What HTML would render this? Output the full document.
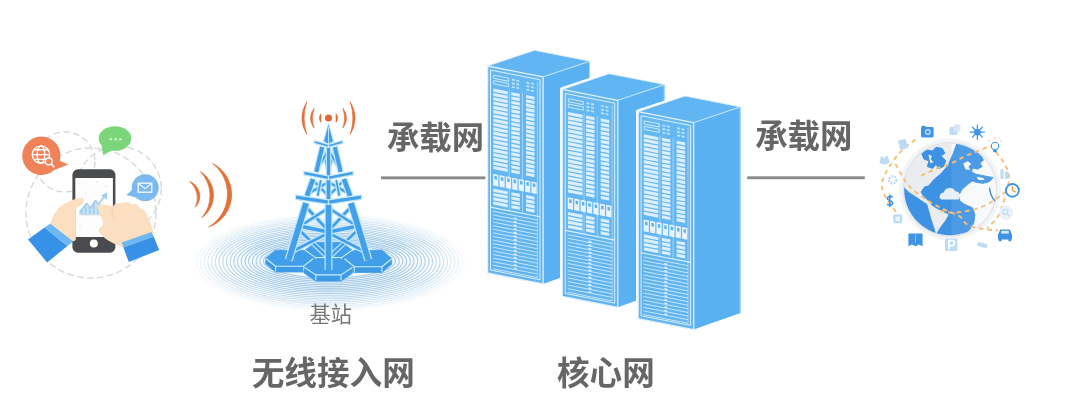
<!DOCTYPE html>
<html lang="zh"><head><meta charset="utf-8"><title>5G network architecture</title>
<style>
html,body{margin:0;padding:0;background:#fff;}
body{width:1080px;height:415px;position:relative;overflow:hidden;font-family:"Liberation Sans",sans-serif;}
svg{position:absolute;left:0;top:0;display:block;filter:blur(0.35px);}
.t{position:absolute;color:transparent;white-space:nowrap;overflow:hidden;line-height:1.2;font-family:"Liberation Sans",sans-serif;}
</style></head><body>
<svg width="1080" height="415" viewBox="0 0 1080 415">
<defs>
<radialGradient id="rip" cx="50%" cy="50%" r="50%">
<stop offset="0" stop-color="#dcedf9" stop-opacity=".6"/>
<stop offset=".5" stop-color="#e2f0fa" stop-opacity=".45"/>
<stop offset=".85" stop-color="#eef6fc" stop-opacity=".2"/>
<stop offset="1" stop-color="#ffffff" stop-opacity="0"/>
</radialGradient>
<linearGradient id="front" x1="0" y1="0" x2="0" y2="1">
<stop offset="0" stop-color="#66b8f3"/><stop offset="1" stop-color="#5fb4f1"/>
</linearGradient>
</defs>
<rect width="1080" height="415" fill="#fff"/>
<ellipse cx="329.5" cy="262" rx="132" ry="46" fill="url(#rip)"/>
<g fill="none" stroke="#9fc7e4" stroke-width="1.05">
<ellipse cx="329.5" cy="261" rx="66" ry="17" stroke-opacity="0.98"/>
<ellipse cx="329.5" cy="261.07" rx="69.71" ry="18.66" stroke-opacity="0.98"/>
<ellipse cx="329.5" cy="261.15" rx="73.42" ry="20.32" stroke-opacity="0.98"/>
<ellipse cx="329.5" cy="261.22" rx="77.13" ry="21.97" stroke-opacity="0.98"/>
<ellipse cx="329.5" cy="261.29" rx="80.84" ry="23.63" stroke-opacity="0.98"/>
<ellipse cx="329.5" cy="261.37" rx="84.55" ry="25.29" stroke-opacity="0.98"/>
<ellipse cx="329.5" cy="261.44" rx="88.26" ry="26.95" stroke-opacity="0.95"/>
<ellipse cx="329.5" cy="261.52" rx="91.97" ry="28.61" stroke-opacity="0.9"/>
<ellipse cx="329.5" cy="261.59" rx="95.68" ry="30.26" stroke-opacity="0.84"/>
<ellipse cx="329.5" cy="261.66" rx="99.39" ry="31.92" stroke-opacity="0.78"/>
<ellipse cx="329.5" cy="261.74" rx="103.11" ry="33.58" stroke-opacity="0.72"/>
<ellipse cx="329.5" cy="261.81" rx="106.82" ry="35.24" stroke-opacity="0.66"/>
<ellipse cx="329.5" cy="261.88" rx="110.53" ry="36.89" stroke-opacity="0.59"/>
<ellipse cx="329.5" cy="261.96" rx="114.24" ry="38.55" stroke-opacity="0.53"/>
<ellipse cx="329.5" cy="262.03" rx="117.95" ry="40.21" stroke-opacity="0.46"/>
<ellipse cx="329.5" cy="262.11" rx="121.66" ry="41.87" stroke-opacity="0.39"/>
<ellipse cx="329.5" cy="262.18" rx="125.37" ry="43.53" stroke-opacity="0.32"/>
<ellipse cx="329.5" cy="262.25" rx="129.08" ry="45.18" stroke-opacity="0.24"/>
<ellipse cx="329.5" cy="262.33" rx="132.79" ry="46.84" stroke-opacity="0.15"/>
<ellipse cx="329.5" cy="262.4" rx="136.5" ry="48.5" stroke-opacity="0.03"/>
</g>
<polygon points="305.1,250 315.6,257.6 341.6,257.6 352.1,250 352.1,255.6 341.6,263.2 315.6,263.2 305.1,255.6" fill="#3f9ae6" stroke="#419ee9" stroke-width="0.8" stroke-linejoin="round"/><polygon points="305.1,250 315.6,242.4 341.6,242.4 352.1,250 341.6,257.6 315.6,257.6" fill="#419ee9" stroke="#419ee9" stroke-width="0.8" stroke-linejoin="round"/><path d="M305.1 250.3L315.6 257.6L341.6 257.6L352.1 250.3 M315.6 257.6v4.8 M341.6 257.6v4.8" fill="none" stroke="#cdeefd" stroke-width="1.1" stroke-linejoin="round"/>
<polygon points="265.8,258.2 275.6,266.2 303.6,266.2 313.4,258.2 313.4,264 303.6,272 275.6,272 265.8,264" fill="#3f9ae6" stroke="#419ee9" stroke-width="0.8" stroke-linejoin="round"/><polygon points="265.8,258.2 275.6,250.2 303.6,250.2 313.4,258.2 303.6,266.2 275.6,266.2" fill="#419ee9" stroke="#419ee9" stroke-width="0.8" stroke-linejoin="round"/><path d="M265.8 258.5L275.6 266.2L303.6 266.2L313.4 258.5 M275.6 266.2v5 M303.6 266.2v5" fill="none" stroke="#cdeefd" stroke-width="1.1" stroke-linejoin="round"/>
<polygon points="344.5,258.5 354.3,266.7 381.9,266.7 391.7,258.5 391.7,264.3 381.9,272.5 354.3,272.5 344.5,264.3" fill="#3f9ae6" stroke="#419ee9" stroke-width="0.8" stroke-linejoin="round"/><polygon points="344.5,258.5 354.3,250.3 381.9,250.3 391.7,258.5 381.9,266.7 354.3,266.7" fill="#419ee9" stroke="#419ee9" stroke-width="0.8" stroke-linejoin="round"/><path d="M344.5 258.8L354.3 266.7L381.9 266.7L391.7 258.8 M354.3 266.7v5 M381.9 266.7v5" fill="none" stroke="#cdeefd" stroke-width="1.1" stroke-linejoin="round"/>
<polygon points="304.1,266.9 315.8,274.9 341,274.9 352.7,266.9 352.7,273.1 341,281.1 315.8,281.1 304.1,273.1" fill="#3f9ae6" stroke="#419ee9" stroke-width="0.8" stroke-linejoin="round"/><polygon points="304.1,266.9 315.8,258.9 341,258.9 352.7,266.9 341,274.9 315.8,274.9" fill="#419ee9" stroke="#419ee9" stroke-width="0.8" stroke-linejoin="round"/><path d="M304.1 267.2L315.8 274.9L341 274.9L352.7 267.2 M315.8 274.9v5.4 M341 274.9v5.4" fill="none" stroke="#cdeefd" stroke-width="1.1" stroke-linejoin="round"/>
<line x1="298.16" y1="229" x2="328.5" y2="258" stroke="#c2e8fc" stroke-width="5" stroke-linecap="butt"/><line x1="298.16" y1="229" x2="328.5" y2="258" stroke="#429fe9" stroke-width="2.6" stroke-linecap="butt"/>
<line x1="328.5" y1="233" x2="291.14" y2="252" stroke="#c2e8fc" stroke-width="5" stroke-linecap="butt"/><line x1="328.5" y1="233" x2="291.14" y2="252" stroke="#429fe9" stroke-width="2.6" stroke-linecap="butt"/>
<line x1="305.18" y1="206" x2="328.5" y2="231" stroke="#c2e8fc" stroke-width="5" stroke-linecap="butt"/><line x1="305.18" y1="206" x2="328.5" y2="231" stroke="#429fe9" stroke-width="2.6" stroke-linecap="butt"/>
<line x1="328.5" y1="208" x2="298.77" y2="227" stroke="#c2e8fc" stroke-width="5" stroke-linecap="butt"/><line x1="328.5" y1="208" x2="298.77" y2="227" stroke="#429fe9" stroke-width="2.6" stroke-linecap="butt"/>
<line x1="299.08" y1="226" x2="328.5" y2="232" stroke="#c2e8fc" stroke-width="5.8" stroke-linecap="butt"/><line x1="299.08" y1="226" x2="328.5" y2="232" stroke="#429fe9" stroke-width="3.4" stroke-linecap="butt"/>
<line x1="358.84" y1="229" x2="328.5" y2="258" stroke="#c2e8fc" stroke-width="5" stroke-linecap="butt"/><line x1="358.84" y1="229" x2="328.5" y2="258" stroke="#429fe9" stroke-width="2.6" stroke-linecap="butt"/>
<line x1="328.5" y1="233" x2="365.86" y2="252" stroke="#c2e8fc" stroke-width="5" stroke-linecap="butt"/><line x1="328.5" y1="233" x2="365.86" y2="252" stroke="#429fe9" stroke-width="2.6" stroke-linecap="butt"/>
<line x1="351.82" y1="206" x2="328.5" y2="231" stroke="#c2e8fc" stroke-width="5" stroke-linecap="butt"/><line x1="351.82" y1="206" x2="328.5" y2="231" stroke="#429fe9" stroke-width="2.6" stroke-linecap="butt"/>
<line x1="328.5" y1="208" x2="358.23" y2="227" stroke="#c2e8fc" stroke-width="5" stroke-linecap="butt"/><line x1="328.5" y1="208" x2="358.23" y2="227" stroke="#429fe9" stroke-width="2.6" stroke-linecap="butt"/>
<line x1="357.92" y1="226" x2="328.5" y2="232" stroke="#c2e8fc" stroke-width="5.8" stroke-linecap="butt"/><line x1="357.92" y1="226" x2="328.5" y2="232" stroke="#429fe9" stroke-width="3.4" stroke-linecap="butt"/>
<line x1="306.1" y1="203" x2="288.7" y2="260" stroke="#c2e8fc" stroke-width="8.2" stroke-linecap="butt"/><line x1="306.1" y1="203" x2="288.7" y2="260" stroke="#429fe9" stroke-width="5.8" stroke-linecap="butt"/>
<line x1="350.9" y1="203" x2="368.3" y2="260" stroke="#c2e8fc" stroke-width="8.2" stroke-linecap="butt"/><line x1="350.9" y1="203" x2="368.3" y2="260" stroke="#429fe9" stroke-width="5.8" stroke-linecap="butt"/>
<line x1="328.5" y1="203" x2="328.5" y2="270" stroke="#c2e8fc" stroke-width="7.91" stroke-linecap="butt"/><line x1="328.5" y1="203" x2="328.5" y2="270" stroke="#429fe9" stroke-width="5.51" stroke-linecap="butt"/>
<line x1="312.74" y1="180" x2="328.5" y2="196" stroke="#c2e8fc" stroke-width="4.6" stroke-linecap="butt"/><line x1="312.74" y1="180" x2="328.5" y2="196" stroke="#429fe9" stroke-width="2.2" stroke-linecap="butt"/>
<line x1="328.5" y1="182" x2="307.63" y2="194" stroke="#c2e8fc" stroke-width="4.6" stroke-linecap="butt"/><line x1="328.5" y1="182" x2="307.63" y2="194" stroke="#429fe9" stroke-width="2.2" stroke-linecap="butt"/>
<line x1="320.8" y1="180" x2="317.7" y2="196" stroke="#c2e8fc" stroke-width="4.16" stroke-linecap="butt"/><line x1="320.8" y1="180" x2="317.7" y2="196" stroke="#429fe9" stroke-width="1.76" stroke-linecap="butt"/>
<line x1="344.26" y1="180" x2="328.5" y2="196" stroke="#c2e8fc" stroke-width="4.6" stroke-linecap="butt"/><line x1="344.26" y1="180" x2="328.5" y2="196" stroke="#429fe9" stroke-width="2.2" stroke-linecap="butt"/>
<line x1="328.5" y1="182" x2="349.37" y2="194" stroke="#c2e8fc" stroke-width="4.6" stroke-linecap="butt"/><line x1="328.5" y1="182" x2="349.37" y2="194" stroke="#429fe9" stroke-width="2.2" stroke-linecap="butt"/>
<line x1="336.2" y1="180" x2="339.3" y2="196" stroke="#c2e8fc" stroke-width="4.16" stroke-linecap="butt"/><line x1="336.2" y1="180" x2="339.3" y2="196" stroke="#429fe9" stroke-width="1.76" stroke-linecap="butt"/>
<line x1="313.1" y1="179" x2="306.9" y2="196" stroke="#c2e8fc" stroke-width="7" stroke-linecap="butt"/><line x1="313.1" y1="179" x2="306.9" y2="196" stroke="#429fe9" stroke-width="4.6" stroke-linecap="butt"/>
<line x1="343.9" y1="179" x2="350.1" y2="196" stroke="#c2e8fc" stroke-width="7" stroke-linecap="butt"/><line x1="343.9" y1="179" x2="350.1" y2="196" stroke="#429fe9" stroke-width="4.6" stroke-linecap="butt"/>
<line x1="328.5" y1="179" x2="328.5" y2="204" stroke="#c2e8fc" stroke-width="6.08" stroke-linecap="butt"/><line x1="328.5" y1="179" x2="328.5" y2="204" stroke="#429fe9" stroke-width="3.68" stroke-linecap="butt"/>
<line x1="321.96" y1="148" x2="328.5" y2="171" stroke="#c2e8fc" stroke-width="4.5" stroke-linecap="butt"/><line x1="321.96" y1="148" x2="328.5" y2="171" stroke="#429fe9" stroke-width="2.1" stroke-linecap="butt"/>
<line x1="328.5" y1="150" x2="316.77" y2="170" stroke="#c2e8fc" stroke-width="4.5" stroke-linecap="butt"/><line x1="328.5" y1="150" x2="316.77" y2="170" stroke="#429fe9" stroke-width="2.1" stroke-linecap="butt"/>
<line x1="335.04" y1="148" x2="328.5" y2="171" stroke="#c2e8fc" stroke-width="4.5" stroke-linecap="butt"/><line x1="335.04" y1="148" x2="328.5" y2="171" stroke="#429fe9" stroke-width="2.1" stroke-linecap="butt"/>
<line x1="328.5" y1="150" x2="340.23" y2="170" stroke="#c2e8fc" stroke-width="4.5" stroke-linecap="butt"/><line x1="328.5" y1="150" x2="340.23" y2="170" stroke="#429fe9" stroke-width="2.1" stroke-linecap="butt"/>
<line x1="322.2" y1="147" x2="316.3" y2="172" stroke="#c2e8fc" stroke-width="6.4" stroke-linecap="butt"/><line x1="322.2" y1="147" x2="316.3" y2="172" stroke="#429fe9" stroke-width="4" stroke-linecap="butt"/>
<line x1="334.8" y1="147" x2="340.7" y2="172" stroke="#c2e8fc" stroke-width="6.4" stroke-linecap="butt"/><line x1="334.8" y1="147" x2="340.7" y2="172" stroke="#429fe9" stroke-width="4" stroke-linecap="butt"/>
<line x1="328.5" y1="147" x2="328.5" y2="180" stroke="#c2e8fc" stroke-width="5.6" stroke-linecap="butt"/><line x1="328.5" y1="147" x2="328.5" y2="180" stroke="#429fe9" stroke-width="3.2" stroke-linecap="butt"/>
<polygon points="295.5,194.8 328.5,199.8 328.5,204.4 295.5,199.4" fill="#429fe9" stroke="#c2e8fc" stroke-width="1.2" stroke-linejoin="round"/><polygon points="361.5,194.8 328.5,199.8 328.5,204.4 361.5,199.4" fill="#429fe9" stroke="#c2e8fc" stroke-width="1.2" stroke-linejoin="round"/>
<polygon points="303.9,171.2 328.5,176 328.5,179.7 303.9,174.9" fill="#429fe9" stroke="#c2e8fc" stroke-width="1.2" stroke-linejoin="round"/><polygon points="353.1,171.2 328.5,176 328.5,179.7 353.1,174.9" fill="#429fe9" stroke="#c2e8fc" stroke-width="1.2" stroke-linejoin="round"/>
<polygon points="314.2,140.4 328.5,144.4 328.5,147.4 314.2,143.4" fill="#429fe9" stroke="#c2e8fc" stroke-width="1.2" stroke-linejoin="round"/><polygon points="342.8,140.4 328.5,144.4 328.5,147.4 342.8,143.4" fill="#429fe9" stroke="#c2e8fc" stroke-width="1.2" stroke-linejoin="round"/>
<polygon points="328.5,123.2 323.5,141.4 328.5,144 333.5,141.4" fill="#429fe9" stroke="#c2e8fc" stroke-width="0.8" stroke-linejoin="round"/>
<line x1="328.5" y1="127" x2="328.5" y2="147" stroke="#c2e8fc" stroke-width="0.9"/>
<circle cx="328.5" cy="118.1" r="3.5" fill="#ea6230"/>
<path d="M321 113.8 A6.29 6.29 0 0 0 321 122.4 Z" fill="#e2703a" stroke="#e2703a" stroke-width="0.6" stroke-linejoin="round"/>
<path d="M336 113.8 A6.29 6.29 0 0 1 336 122.4 Z" fill="#e2703a" stroke="#e2703a" stroke-width="0.6" stroke-linejoin="round"/>
<path d="M314.2 108.2 A15.09 15.09 0 0 0 314.2 128 A29.68 29.68 0 0 1 314.2 108.2 Z" fill="#e2703a" stroke="#e2703a" stroke-width="0.6" stroke-linejoin="round"/>
<path d="M342.8 108.2 A15.09 15.09 0 0 1 342.8 128 A29.68 29.68 0 0 0 342.8 108.2 Z" fill="#e2703a" stroke="#e2703a" stroke-width="0.6" stroke-linejoin="round"/>
<path d="M307 101.5 A29.57 29.57 0 0 0 307 134.7 A50.61 50.61 0 0 1 307 101.5 Z" fill="#e2703a" stroke="#e2703a" stroke-width="0.6" stroke-linejoin="round"/>
<path d="M350 101.5 A29.57 29.57 0 0 1 350 134.7 A50.61 50.61 0 0 0 350 101.5 Z" fill="#e2703a" stroke="#e2703a" stroke-width="0.6" stroke-linejoin="round"/>
<path d="M189.8 181.4 A15.95 15.95 0 0 1 195.4 207.2 A22 22 0 0 0 189.8 181.4 Z" fill="#e1703a" stroke="#e1703a" stroke-width="0.7" stroke-linejoin="round"/>
<path d="M200.3 171.6 A27.68 27.68 0 0 1 202 217.6 A34.21 34.21 0 0 0 200.3 171.6 Z" fill="#e1703a" stroke="#e1703a" stroke-width="0.7" stroke-linejoin="round"/>
<path d="M212.6 163.5 A34.59 34.59 0 0 1 208.7 227 A38.52 38.52 0 0 0 212.6 163.5 Z" fill="#e1703a" stroke="#e1703a" stroke-width="0.7" stroke-linejoin="round"/>
<rect x="381" y="176.4" width="106" height="2.9" fill="#8a8a8a"/><rect x="747.2" y="176.3" width="117.6" height="2.9" fill="#8a8a8a"/>
<polygon points="487.6,66 534.5,50.3 590,61.2 590,267.2 543.1,283.9 487.6,273" fill="#fff" stroke="#fff" stroke-width="4.4" stroke-linejoin="round"/>
<polygon points="543.1,76.9 590,61.2 590,267.2 543.1,283.9" fill="#5ab1f1"/>
<polygon points="487.6,66 534.5,50.3 590,61.2 543.1,76.9" fill="#60b5f2"/>
<polygon points="487.6,66 543.1,76.9 543.1,283.9 487.6,273" fill="#62b6f2"/>
<g transform="matrix(0.97 0.19 0 1 487.6 66)">
<rect x="0" y="0" width="57" height="207" fill="url(#front)"/>
<rect x="3" y="3.5" width="51" height="200" fill="none" stroke="#fff" stroke-opacity=".85" stroke-width="0.9"/>
<g fill="none" stroke="#fff" stroke-opacity=".8" stroke-width=".8">
<rect x="6.2" y="8" width="15.5" height="3.2"/><rect x="6.2" y="13.4" width="15.5" height="3.2"/>
</g>
<g fill="#fff" fill-opacity=".6">
<rect x="25" y="8" width="3" height="1.8"/><rect x="29.6" y="8" width="3" height="1.8"/>
<rect x="25" y="11.6" width="3" height="1.8"/><rect x="29.6" y="11.6" width="3" height="1.8"/>
<rect x="25" y="15.2" width="3" height="1.8"/><rect x="29.6" y="15.2" width="3" height="1.8"/>
<rect x="40" y="8" width="3" height="1.8"/><rect x="44.6" y="8" width="3" height="1.8"/>
<rect x="40" y="11.6" width="3" height="1.8"/><rect x="44.6" y="11.6" width="3" height="1.8"/>
<rect x="40" y="15.2" width="3" height="1.8"/><rect x="44.6" y="15.2" width="3" height="1.8"/>
</g>
<g fill="#fff" fill-opacity=".78">
<rect x="5.8" y="21.5" width="15" height="3.1"/><rect x="24.4" y="21.5" width="8.8" height="3.1"/><rect x="39.6" y="21.5" width="8.8" height="3.1"/>
<rect x="5.8" y="25.8" width="15" height="3.1"/><rect x="24.4" y="25.8" width="8.8" height="3.1"/><rect x="39.6" y="25.8" width="8.8" height="3.1"/>
<rect x="5.8" y="30.1" width="15" height="3.1"/><rect x="24.4" y="30.1" width="8.8" height="3.1"/><rect x="39.6" y="30.1" width="8.8" height="3.1"/>
<rect x="5.8" y="34.4" width="15" height="3.1"/><rect x="24.4" y="34.4" width="8.8" height="3.1"/><rect x="39.6" y="34.4" width="8.8" height="3.1"/>
<rect x="5.8" y="38.7" width="15" height="3.1"/><rect x="24.4" y="38.7" width="8.8" height="3.1"/><rect x="39.6" y="38.7" width="8.8" height="3.1"/>
<rect x="5.8" y="43" width="15" height="3.1"/><rect x="24.4" y="43" width="8.8" height="3.1"/><rect x="39.6" y="43" width="8.8" height="3.1"/>
<rect x="5.8" y="47.3" width="15" height="3.1"/><rect x="24.4" y="47.3" width="8.8" height="3.1"/><rect x="39.6" y="47.3" width="8.8" height="3.1"/>
<rect x="5.8" y="51.6" width="15" height="3.1"/><rect x="24.4" y="51.6" width="8.8" height="3.1"/><rect x="39.6" y="51.6" width="8.8" height="3.1"/>
<rect x="5.8" y="55.9" width="15" height="3.1"/><rect x="24.4" y="55.9" width="8.8" height="3.1"/><rect x="39.6" y="55.9" width="8.8" height="3.1"/>
<rect x="5.8" y="60.2" width="15" height="3.1"/><rect x="24.4" y="60.2" width="8.8" height="3.1"/><rect x="39.6" y="60.2" width="8.8" height="3.1"/>
<rect x="5.8" y="64.5" width="15" height="3.1"/><rect x="24.4" y="64.5" width="8.8" height="3.1"/><rect x="39.6" y="64.5" width="8.8" height="3.1"/>
<rect x="5.8" y="68.8" width="15" height="3.1"/><rect x="24.4" y="68.8" width="8.8" height="3.1"/><rect x="39.6" y="68.8" width="8.8" height="3.1"/>
<rect x="5.8" y="73.1" width="15" height="3.1"/><rect x="24.4" y="73.1" width="8.8" height="3.1"/><rect x="39.6" y="73.1" width="8.8" height="3.1"/>
<rect x="5.8" y="77.4" width="15" height="3.1"/><rect x="24.4" y="77.4" width="8.8" height="3.1"/><rect x="39.6" y="77.4" width="8.8" height="3.1"/>
<rect x="5.8" y="81.7" width="15" height="3.1"/><rect x="24.4" y="81.7" width="8.8" height="3.1"/><rect x="39.6" y="81.7" width="8.8" height="3.1"/>
<rect x="5.8" y="86" width="15" height="3.1"/><rect x="24.4" y="86" width="8.8" height="3.1"/><rect x="39.6" y="86" width="8.8" height="3.1"/>
<rect x="5.8" y="90.3" width="15" height="3.1"/><rect x="24.4" y="90.3" width="8.8" height="3.1"/><rect x="39.6" y="90.3" width="8.8" height="3.1"/>
<rect x="5.8" y="94.6" width="15" height="3.1"/><rect x="24.4" y="94.6" width="8.8" height="3.1"/><rect x="39.6" y="94.6" width="8.8" height="3.1"/>
<rect x="5.8" y="98.9" width="15" height="3.1"/><rect x="24.4" y="98.9" width="8.8" height="3.1"/><rect x="39.6" y="98.9" width="8.8" height="3.1"/>
<rect x="5.8" y="121.5" width="15" height="3.1"/><rect x="24.4" y="121.5" width="8.8" height="3.1"/><rect x="39.6" y="121.5" width="8.8" height="3.1"/>
<rect x="5.8" y="125.8" width="15" height="3.1"/><rect x="24.4" y="125.8" width="8.8" height="3.1"/><rect x="39.6" y="125.8" width="8.8" height="3.1"/>
<rect x="5.8" y="130.1" width="15" height="3.1"/><rect x="24.4" y="130.1" width="8.8" height="3.1"/><rect x="39.6" y="130.1" width="8.8" height="3.1"/>
<rect x="5.8" y="134.4" width="15" height="3.1"/><rect x="24.4" y="134.4" width="8.8" height="3.1"/><rect x="39.6" y="134.4" width="8.8" height="3.1"/>
</g>
<path d="M22.4 20v120M36 20v120M51.4 6v196" stroke="#fff" stroke-opacity=".55" stroke-width=".7" fill="none"/>
<rect x="5.6" y="106.8" width="5.4" height="11.6" fill="#fff" fill-opacity=".85"/><rect x="7" y="108.4" width="2.6" height="3.6" fill="#5cb2f1"/>
<rect x="12.2" y="106.8" width="5.4" height="11.6" fill="#fff" fill-opacity=".85"/><rect x="13.6" y="108.4" width="2.6" height="3.6" fill="#5cb2f1"/>
<rect x="18.8" y="106.8" width="5.4" height="11.6" fill="#fff" fill-opacity=".85"/><rect x="20.2" y="108.4" width="2.6" height="3.6" fill="#5cb2f1"/>
<rect x="25.4" y="106.8" width="5.4" height="11.6" fill="#fff" fill-opacity=".85"/><rect x="26.8" y="108.4" width="2.6" height="3.6" fill="#5cb2f1"/>
<rect x="32" y="106.8" width="5.4" height="11.6" fill="#fff" fill-opacity=".85"/><rect x="33.4" y="108.4" width="2.6" height="3.6" fill="#5cb2f1"/>
<rect x="38.6" y="106.8" width="5.4" height="11.6" fill="#fff" fill-opacity=".85"/><rect x="40" y="108.4" width="2.6" height="3.6" fill="#5cb2f1"/>
<rect x="45.2" y="106.8" width="5.4" height="11.6" fill="#fff" fill-opacity=".85"/><rect x="46.6" y="108.4" width="2.6" height="3.6" fill="#5cb2f1"/>
<g stroke="#fff" stroke-opacity=".8" stroke-width="0.8">
<line x1="3" y1="140.5" x2="54" y2="140.5" stroke-width="1.2"/>
<line x1="5.5" y1="144.2" x2="51.5" y2="144.2"/>
<line x1="5.5" y1="147.8" x2="51.5" y2="147.8"/>
<line x1="5.5" y1="151.4" x2="51.5" y2="151.4"/>
<line x1="5.5" y1="155" x2="51.5" y2="155"/>
<line x1="5.5" y1="158.6" x2="51.5" y2="158.6"/>
<line x1="5.5" y1="162.2" x2="51.5" y2="162.2"/>
<line x1="5.5" y1="165.8" x2="51.5" y2="165.8"/>
<line x1="5.5" y1="169.4" x2="51.5" y2="169.4"/>
<line x1="5.5" y1="173" x2="51.5" y2="173"/>
<line x1="5.5" y1="176.6" x2="51.5" y2="176.6"/>
<line x1="5.5" y1="180.2" x2="51.5" y2="180.2"/>
<line x1="5.5" y1="183.8" x2="51.5" y2="183.8"/>
<line x1="5.5" y1="187.4" x2="51.5" y2="187.4"/>
<line x1="5.5" y1="191" x2="51.5" y2="191"/>
<line x1="5.5" y1="194.6" x2="51.5" y2="194.6"/>
<line x1="5.5" y1="198.2" x2="51.5" y2="198.2"/>
<line x1="5.5" y1="201.8" x2="51.5" y2="201.8"/>
</g>
<line x1="28.5" y1="146" x2="28.5" y2="200" stroke="#fff" stroke-opacity=".75" stroke-width="3" stroke-dasharray="1.6 2"/>
</g>
<polyline points="487.6,273 487.6,66 543.1,76.9 543.1,283.9 487.6,273" fill="none" stroke="#dff0fc" stroke-width="1.3" stroke-linejoin="round"/>
<polyline points="487.6,66 534.5,50.3 590,61.2 543.1,76.9" fill="none" stroke="#dff0fc" stroke-width="1" stroke-linejoin="round" stroke-opacity=".8"/>
<line x1="589.5" y1="61.2" x2="589.5" y2="267.2" stroke="#a9d7f8" stroke-width="1"/>
<polygon points="562.3,89.4 609.2,73.7 664.7,84.6 664.7,290.6 617.8,307.3 562.3,296.4" fill="#fff" stroke="#fff" stroke-width="4.4" stroke-linejoin="round"/>
<polygon points="617.8,100.3 664.7,84.6 664.7,290.6 617.8,307.3" fill="#5ab1f1"/>
<polygon points="562.3,89.4 609.2,73.7 664.7,84.6 617.8,100.3" fill="#60b5f2"/>
<polygon points="562.3,89.4 617.8,100.3 617.8,307.3 562.3,296.4" fill="#62b6f2"/>
<g transform="matrix(0.97 0.19 0 1 562.3 89.4)">
<rect x="0" y="0" width="57" height="207" fill="url(#front)"/>
<rect x="3" y="3.5" width="51" height="200" fill="none" stroke="#fff" stroke-opacity=".85" stroke-width="0.9"/>
<g fill="none" stroke="#fff" stroke-opacity=".8" stroke-width=".8">
<rect x="6.2" y="8" width="15.5" height="3.2"/><rect x="6.2" y="13.4" width="15.5" height="3.2"/>
</g>
<g fill="#fff" fill-opacity=".6">
<rect x="25" y="8" width="3" height="1.8"/><rect x="29.6" y="8" width="3" height="1.8"/>
<rect x="25" y="11.6" width="3" height="1.8"/><rect x="29.6" y="11.6" width="3" height="1.8"/>
<rect x="25" y="15.2" width="3" height="1.8"/><rect x="29.6" y="15.2" width="3" height="1.8"/>
<rect x="40" y="8" width="3" height="1.8"/><rect x="44.6" y="8" width="3" height="1.8"/>
<rect x="40" y="11.6" width="3" height="1.8"/><rect x="44.6" y="11.6" width="3" height="1.8"/>
<rect x="40" y="15.2" width="3" height="1.8"/><rect x="44.6" y="15.2" width="3" height="1.8"/>
</g>
<g fill="#fff" fill-opacity=".78">
<rect x="5.8" y="21.5" width="15" height="3.1"/><rect x="24.4" y="21.5" width="8.8" height="3.1"/><rect x="39.6" y="21.5" width="8.8" height="3.1"/>
<rect x="5.8" y="25.8" width="15" height="3.1"/><rect x="24.4" y="25.8" width="8.8" height="3.1"/><rect x="39.6" y="25.8" width="8.8" height="3.1"/>
<rect x="5.8" y="30.1" width="15" height="3.1"/><rect x="24.4" y="30.1" width="8.8" height="3.1"/><rect x="39.6" y="30.1" width="8.8" height="3.1"/>
<rect x="5.8" y="34.4" width="15" height="3.1"/><rect x="24.4" y="34.4" width="8.8" height="3.1"/><rect x="39.6" y="34.4" width="8.8" height="3.1"/>
<rect x="5.8" y="38.7" width="15" height="3.1"/><rect x="24.4" y="38.7" width="8.8" height="3.1"/><rect x="39.6" y="38.7" width="8.8" height="3.1"/>
<rect x="5.8" y="43" width="15" height="3.1"/><rect x="24.4" y="43" width="8.8" height="3.1"/><rect x="39.6" y="43" width="8.8" height="3.1"/>
<rect x="5.8" y="47.3" width="15" height="3.1"/><rect x="24.4" y="47.3" width="8.8" height="3.1"/><rect x="39.6" y="47.3" width="8.8" height="3.1"/>
<rect x="5.8" y="51.6" width="15" height="3.1"/><rect x="24.4" y="51.6" width="8.8" height="3.1"/><rect x="39.6" y="51.6" width="8.8" height="3.1"/>
<rect x="5.8" y="55.9" width="15" height="3.1"/><rect x="24.4" y="55.9" width="8.8" height="3.1"/><rect x="39.6" y="55.9" width="8.8" height="3.1"/>
<rect x="5.8" y="60.2" width="15" height="3.1"/><rect x="24.4" y="60.2" width="8.8" height="3.1"/><rect x="39.6" y="60.2" width="8.8" height="3.1"/>
<rect x="5.8" y="64.5" width="15" height="3.1"/><rect x="24.4" y="64.5" width="8.8" height="3.1"/><rect x="39.6" y="64.5" width="8.8" height="3.1"/>
<rect x="5.8" y="68.8" width="15" height="3.1"/><rect x="24.4" y="68.8" width="8.8" height="3.1"/><rect x="39.6" y="68.8" width="8.8" height="3.1"/>
<rect x="5.8" y="73.1" width="15" height="3.1"/><rect x="24.4" y="73.1" width="8.8" height="3.1"/><rect x="39.6" y="73.1" width="8.8" height="3.1"/>
<rect x="5.8" y="77.4" width="15" height="3.1"/><rect x="24.4" y="77.4" width="8.8" height="3.1"/><rect x="39.6" y="77.4" width="8.8" height="3.1"/>
<rect x="5.8" y="81.7" width="15" height="3.1"/><rect x="24.4" y="81.7" width="8.8" height="3.1"/><rect x="39.6" y="81.7" width="8.8" height="3.1"/>
<rect x="5.8" y="86" width="15" height="3.1"/><rect x="24.4" y="86" width="8.8" height="3.1"/><rect x="39.6" y="86" width="8.8" height="3.1"/>
<rect x="5.8" y="90.3" width="15" height="3.1"/><rect x="24.4" y="90.3" width="8.8" height="3.1"/><rect x="39.6" y="90.3" width="8.8" height="3.1"/>
<rect x="5.8" y="94.6" width="15" height="3.1"/><rect x="24.4" y="94.6" width="8.8" height="3.1"/><rect x="39.6" y="94.6" width="8.8" height="3.1"/>
<rect x="5.8" y="98.9" width="15" height="3.1"/><rect x="24.4" y="98.9" width="8.8" height="3.1"/><rect x="39.6" y="98.9" width="8.8" height="3.1"/>
<rect x="5.8" y="121.5" width="15" height="3.1"/><rect x="24.4" y="121.5" width="8.8" height="3.1"/><rect x="39.6" y="121.5" width="8.8" height="3.1"/>
<rect x="5.8" y="125.8" width="15" height="3.1"/><rect x="24.4" y="125.8" width="8.8" height="3.1"/><rect x="39.6" y="125.8" width="8.8" height="3.1"/>
<rect x="5.8" y="130.1" width="15" height="3.1"/><rect x="24.4" y="130.1" width="8.8" height="3.1"/><rect x="39.6" y="130.1" width="8.8" height="3.1"/>
<rect x="5.8" y="134.4" width="15" height="3.1"/><rect x="24.4" y="134.4" width="8.8" height="3.1"/><rect x="39.6" y="134.4" width="8.8" height="3.1"/>
</g>
<path d="M22.4 20v120M36 20v120M51.4 6v196" stroke="#fff" stroke-opacity=".55" stroke-width=".7" fill="none"/>
<rect x="5.6" y="106.8" width="5.4" height="11.6" fill="#fff" fill-opacity=".85"/><rect x="7" y="108.4" width="2.6" height="3.6" fill="#5cb2f1"/>
<rect x="12.2" y="106.8" width="5.4" height="11.6" fill="#fff" fill-opacity=".85"/><rect x="13.6" y="108.4" width="2.6" height="3.6" fill="#5cb2f1"/>
<rect x="18.8" y="106.8" width="5.4" height="11.6" fill="#fff" fill-opacity=".85"/><rect x="20.2" y="108.4" width="2.6" height="3.6" fill="#5cb2f1"/>
<rect x="25.4" y="106.8" width="5.4" height="11.6" fill="#fff" fill-opacity=".85"/><rect x="26.8" y="108.4" width="2.6" height="3.6" fill="#5cb2f1"/>
<rect x="32" y="106.8" width="5.4" height="11.6" fill="#fff" fill-opacity=".85"/><rect x="33.4" y="108.4" width="2.6" height="3.6" fill="#5cb2f1"/>
<rect x="38.6" y="106.8" width="5.4" height="11.6" fill="#fff" fill-opacity=".85"/><rect x="40" y="108.4" width="2.6" height="3.6" fill="#5cb2f1"/>
<rect x="45.2" y="106.8" width="5.4" height="11.6" fill="#fff" fill-opacity=".85"/><rect x="46.6" y="108.4" width="2.6" height="3.6" fill="#5cb2f1"/>
<g stroke="#fff" stroke-opacity=".8" stroke-width="0.8">
<line x1="3" y1="140.5" x2="54" y2="140.5" stroke-width="1.2"/>
<line x1="5.5" y1="144.2" x2="51.5" y2="144.2"/>
<line x1="5.5" y1="147.8" x2="51.5" y2="147.8"/>
<line x1="5.5" y1="151.4" x2="51.5" y2="151.4"/>
<line x1="5.5" y1="155" x2="51.5" y2="155"/>
<line x1="5.5" y1="158.6" x2="51.5" y2="158.6"/>
<line x1="5.5" y1="162.2" x2="51.5" y2="162.2"/>
<line x1="5.5" y1="165.8" x2="51.5" y2="165.8"/>
<line x1="5.5" y1="169.4" x2="51.5" y2="169.4"/>
<line x1="5.5" y1="173" x2="51.5" y2="173"/>
<line x1="5.5" y1="176.6" x2="51.5" y2="176.6"/>
<line x1="5.5" y1="180.2" x2="51.5" y2="180.2"/>
<line x1="5.5" y1="183.8" x2="51.5" y2="183.8"/>
<line x1="5.5" y1="187.4" x2="51.5" y2="187.4"/>
<line x1="5.5" y1="191" x2="51.5" y2="191"/>
<line x1="5.5" y1="194.6" x2="51.5" y2="194.6"/>
<line x1="5.5" y1="198.2" x2="51.5" y2="198.2"/>
<line x1="5.5" y1="201.8" x2="51.5" y2="201.8"/>
</g>
<line x1="28.5" y1="146" x2="28.5" y2="200" stroke="#fff" stroke-opacity=".75" stroke-width="3" stroke-dasharray="1.6 2"/>
</g>
<polyline points="562.3,296.4 562.3,89.4 617.8,100.3 617.8,307.3 562.3,296.4" fill="none" stroke="#dff0fc" stroke-width="1.3" stroke-linejoin="round"/>
<polyline points="562.3,89.4 609.2,73.7 664.7,84.6 617.8,100.3" fill="none" stroke="#dff0fc" stroke-width="1" stroke-linejoin="round" stroke-opacity=".8"/>
<line x1="664.2" y1="84.6" x2="664.2" y2="290.6" stroke="#a9d7f8" stroke-width="1"/>
<polygon points="638.2,111.7 685.1,96 740.6,106.9 740.6,312.9 693.7,329.6 638.2,318.7" fill="#fff" stroke="#fff" stroke-width="4.4" stroke-linejoin="round"/>
<polygon points="693.7,122.6 740.6,106.9 740.6,312.9 693.7,329.6" fill="#5ab1f1"/>
<polygon points="638.2,111.7 685.1,96 740.6,106.9 693.7,122.6" fill="#60b5f2"/>
<polygon points="638.2,111.7 693.7,122.6 693.7,329.6 638.2,318.7" fill="#62b6f2"/>
<g transform="matrix(0.97 0.19 0 1 638.2 111.7)">
<rect x="0" y="0" width="57" height="207" fill="url(#front)"/>
<rect x="3" y="3.5" width="51" height="200" fill="none" stroke="#fff" stroke-opacity=".85" stroke-width="0.9"/>
<g fill="none" stroke="#fff" stroke-opacity=".8" stroke-width=".8">
<rect x="6.2" y="8" width="15.5" height="3.2"/><rect x="6.2" y="13.4" width="15.5" height="3.2"/>
</g>
<g fill="#fff" fill-opacity=".6">
<rect x="25" y="8" width="3" height="1.8"/><rect x="29.6" y="8" width="3" height="1.8"/>
<rect x="25" y="11.6" width="3" height="1.8"/><rect x="29.6" y="11.6" width="3" height="1.8"/>
<rect x="25" y="15.2" width="3" height="1.8"/><rect x="29.6" y="15.2" width="3" height="1.8"/>
<rect x="40" y="8" width="3" height="1.8"/><rect x="44.6" y="8" width="3" height="1.8"/>
<rect x="40" y="11.6" width="3" height="1.8"/><rect x="44.6" y="11.6" width="3" height="1.8"/>
<rect x="40" y="15.2" width="3" height="1.8"/><rect x="44.6" y="15.2" width="3" height="1.8"/>
</g>
<g fill="#fff" fill-opacity=".78">
<rect x="5.8" y="21.5" width="15" height="3.1"/><rect x="24.4" y="21.5" width="8.8" height="3.1"/><rect x="39.6" y="21.5" width="8.8" height="3.1"/>
<rect x="5.8" y="25.8" width="15" height="3.1"/><rect x="24.4" y="25.8" width="8.8" height="3.1"/><rect x="39.6" y="25.8" width="8.8" height="3.1"/>
<rect x="5.8" y="30.1" width="15" height="3.1"/><rect x="24.4" y="30.1" width="8.8" height="3.1"/><rect x="39.6" y="30.1" width="8.8" height="3.1"/>
<rect x="5.8" y="34.4" width="15" height="3.1"/><rect x="24.4" y="34.4" width="8.8" height="3.1"/><rect x="39.6" y="34.4" width="8.8" height="3.1"/>
<rect x="5.8" y="38.7" width="15" height="3.1"/><rect x="24.4" y="38.7" width="8.8" height="3.1"/><rect x="39.6" y="38.7" width="8.8" height="3.1"/>
<rect x="5.8" y="43" width="15" height="3.1"/><rect x="24.4" y="43" width="8.8" height="3.1"/><rect x="39.6" y="43" width="8.8" height="3.1"/>
<rect x="5.8" y="47.3" width="15" height="3.1"/><rect x="24.4" y="47.3" width="8.8" height="3.1"/><rect x="39.6" y="47.3" width="8.8" height="3.1"/>
<rect x="5.8" y="51.6" width="15" height="3.1"/><rect x="24.4" y="51.6" width="8.8" height="3.1"/><rect x="39.6" y="51.6" width="8.8" height="3.1"/>
<rect x="5.8" y="55.9" width="15" height="3.1"/><rect x="24.4" y="55.9" width="8.8" height="3.1"/><rect x="39.6" y="55.9" width="8.8" height="3.1"/>
<rect x="5.8" y="60.2" width="15" height="3.1"/><rect x="24.4" y="60.2" width="8.8" height="3.1"/><rect x="39.6" y="60.2" width="8.8" height="3.1"/>
<rect x="5.8" y="64.5" width="15" height="3.1"/><rect x="24.4" y="64.5" width="8.8" height="3.1"/><rect x="39.6" y="64.5" width="8.8" height="3.1"/>
<rect x="5.8" y="68.8" width="15" height="3.1"/><rect x="24.4" y="68.8" width="8.8" height="3.1"/><rect x="39.6" y="68.8" width="8.8" height="3.1"/>
<rect x="5.8" y="73.1" width="15" height="3.1"/><rect x="24.4" y="73.1" width="8.8" height="3.1"/><rect x="39.6" y="73.1" width="8.8" height="3.1"/>
<rect x="5.8" y="77.4" width="15" height="3.1"/><rect x="24.4" y="77.4" width="8.8" height="3.1"/><rect x="39.6" y="77.4" width="8.8" height="3.1"/>
<rect x="5.8" y="81.7" width="15" height="3.1"/><rect x="24.4" y="81.7" width="8.8" height="3.1"/><rect x="39.6" y="81.7" width="8.8" height="3.1"/>
<rect x="5.8" y="86" width="15" height="3.1"/><rect x="24.4" y="86" width="8.8" height="3.1"/><rect x="39.6" y="86" width="8.8" height="3.1"/>
<rect x="5.8" y="90.3" width="15" height="3.1"/><rect x="24.4" y="90.3" width="8.8" height="3.1"/><rect x="39.6" y="90.3" width="8.8" height="3.1"/>
<rect x="5.8" y="94.6" width="15" height="3.1"/><rect x="24.4" y="94.6" width="8.8" height="3.1"/><rect x="39.6" y="94.6" width="8.8" height="3.1"/>
<rect x="5.8" y="98.9" width="15" height="3.1"/><rect x="24.4" y="98.9" width="8.8" height="3.1"/><rect x="39.6" y="98.9" width="8.8" height="3.1"/>
<rect x="5.8" y="121.5" width="15" height="3.1"/><rect x="24.4" y="121.5" width="8.8" height="3.1"/><rect x="39.6" y="121.5" width="8.8" height="3.1"/>
<rect x="5.8" y="125.8" width="15" height="3.1"/><rect x="24.4" y="125.8" width="8.8" height="3.1"/><rect x="39.6" y="125.8" width="8.8" height="3.1"/>
<rect x="5.8" y="130.1" width="15" height="3.1"/><rect x="24.4" y="130.1" width="8.8" height="3.1"/><rect x="39.6" y="130.1" width="8.8" height="3.1"/>
<rect x="5.8" y="134.4" width="15" height="3.1"/><rect x="24.4" y="134.4" width="8.8" height="3.1"/><rect x="39.6" y="134.4" width="8.8" height="3.1"/>
</g>
<path d="M22.4 20v120M36 20v120M51.4 6v196" stroke="#fff" stroke-opacity=".55" stroke-width=".7" fill="none"/>
<rect x="5.6" y="106.8" width="5.4" height="11.6" fill="#fff" fill-opacity=".85"/><rect x="7" y="108.4" width="2.6" height="3.6" fill="#5cb2f1"/>
<rect x="12.2" y="106.8" width="5.4" height="11.6" fill="#fff" fill-opacity=".85"/><rect x="13.6" y="108.4" width="2.6" height="3.6" fill="#5cb2f1"/>
<rect x="18.8" y="106.8" width="5.4" height="11.6" fill="#fff" fill-opacity=".85"/><rect x="20.2" y="108.4" width="2.6" height="3.6" fill="#5cb2f1"/>
<rect x="25.4" y="106.8" width="5.4" height="11.6" fill="#fff" fill-opacity=".85"/><rect x="26.8" y="108.4" width="2.6" height="3.6" fill="#5cb2f1"/>
<rect x="32" y="106.8" width="5.4" height="11.6" fill="#fff" fill-opacity=".85"/><rect x="33.4" y="108.4" width="2.6" height="3.6" fill="#5cb2f1"/>
<rect x="38.6" y="106.8" width="5.4" height="11.6" fill="#fff" fill-opacity=".85"/><rect x="40" y="108.4" width="2.6" height="3.6" fill="#5cb2f1"/>
<rect x="45.2" y="106.8" width="5.4" height="11.6" fill="#fff" fill-opacity=".85"/><rect x="46.6" y="108.4" width="2.6" height="3.6" fill="#5cb2f1"/>
<g stroke="#fff" stroke-opacity=".8" stroke-width="0.8">
<line x1="3" y1="140.5" x2="54" y2="140.5" stroke-width="1.2"/>
<line x1="5.5" y1="144.2" x2="51.5" y2="144.2"/>
<line x1="5.5" y1="147.8" x2="51.5" y2="147.8"/>
<line x1="5.5" y1="151.4" x2="51.5" y2="151.4"/>
<line x1="5.5" y1="155" x2="51.5" y2="155"/>
<line x1="5.5" y1="158.6" x2="51.5" y2="158.6"/>
<line x1="5.5" y1="162.2" x2="51.5" y2="162.2"/>
<line x1="5.5" y1="165.8" x2="51.5" y2="165.8"/>
<line x1="5.5" y1="169.4" x2="51.5" y2="169.4"/>
<line x1="5.5" y1="173" x2="51.5" y2="173"/>
<line x1="5.5" y1="176.6" x2="51.5" y2="176.6"/>
<line x1="5.5" y1="180.2" x2="51.5" y2="180.2"/>
<line x1="5.5" y1="183.8" x2="51.5" y2="183.8"/>
<line x1="5.5" y1="187.4" x2="51.5" y2="187.4"/>
<line x1="5.5" y1="191" x2="51.5" y2="191"/>
<line x1="5.5" y1="194.6" x2="51.5" y2="194.6"/>
<line x1="5.5" y1="198.2" x2="51.5" y2="198.2"/>
<line x1="5.5" y1="201.8" x2="51.5" y2="201.8"/>
</g>
<line x1="28.5" y1="146" x2="28.5" y2="200" stroke="#fff" stroke-opacity=".75" stroke-width="3" stroke-dasharray="1.6 2"/>
</g>
<polyline points="638.2,318.7 638.2,111.7 693.7,122.6 693.7,329.6 638.2,318.7" fill="none" stroke="#dff0fc" stroke-width="1.3" stroke-linejoin="round"/>
<polyline points="638.2,111.7 685.1,96 740.6,106.9 693.7,122.6" fill="none" stroke="#dff0fc" stroke-width="1" stroke-linejoin="round" stroke-opacity=".8"/>
<line x1="740.1" y1="106.9" x2="740.1" y2="312.9" stroke="#a9d7f8" stroke-width="1"/>
<circle cx="91" cy="213" r="65" fill="none" stroke="#d6d8da" stroke-width="1.4" stroke-dasharray="5.5 4.5" stroke-linecap="round"/>
<circle cx="118.7" cy="189" r="42.6" fill="none" stroke="#d6d8da" stroke-width="1.4" stroke-dasharray="5.5 4.5" stroke-linecap="round"/>
<circle cx="65" cy="162" r="30" fill="none" stroke="#d6d8da" stroke-width="1.4" stroke-dasharray="5.5 4.5" stroke-linecap="round"/>
<polygon points="28,239.5 44.6,227.4 67.4,246 47.2,262.4" fill="#3791e6"/>
<polygon points="44.6,227.4 50.5,223.4 73.4,241.2 67.4,246" fill="#6db8f3"/>
<rect x="72.4" y="169.3" width="43" height="83.4" rx="5.4" fill="#4a4b4e"/>
<rect x="75.3" y="178" width="37.6" height="59" fill="#fdfdfe"/>
<circle cx="93.8" cy="243.6" r="4" fill="#fff"/>
<polygon points="79.5,214 86.5,204.5 90.5,209 95.6,201.5 99.6,207.5 99.6,214" fill="#cfe5f6"/>
<g fill="#a9d2f1">
<rect x="79" y="214.2" width="23" height="1.1" fill="#b7c4cf" fill-opacity=".7"/>
<rect x="80.6" y="210" width="2.4" height="4"/>
<rect x="84.6" y="206.5" width="2.4" height="7.5"/>
<rect x="88.6" y="208" width="2.4" height="6"/>
<rect x="92.6" y="203.5" width="2.4" height="10.5"/>
<rect x="96.6" y="206" width="2.4" height="8"/>
</g>
<path d="M79.5 212.5 L86.5 203.5 L90.5 208 L95.6 200.5 L98.4 204.4 L104.6 196" fill="none" stroke="#9ecbef" stroke-width="1.6" stroke-linejoin="round"/>
<polygon points="107,192.6 107,199.6 101,195.6" fill="#9ecbef"/>
<g fill="#c3d3df" fill-opacity=".8"><circle cx="80" cy="184" r=".8"/><circle cx="97" cy="182" r=".8"/><circle cx="106" cy="186" r=".8"/><circle cx="86" cy="193" r=".8"/><circle cx="80" cy="226" r=".8"/><circle cx="100" cy="229" r=".8"/><circle cx="108" cy="222" r=".8"/></g>
<path d="M50.6 223.4 C52.6 213.6 59.6 205.2 67.6 202.4 C72 199.8 78.4 197.2 82.4 198.2 C85 199.2 84.2 203 81.2 204.8 L75.8 208.6 L75.8 240 L73.2 241.4 Z" fill="#fbdfc0"/>
<path d="M97.2 207.6 C96.8 205 99.5 203.6 102 204.2 L113 206.6 C114.5 203.5 118.5 202.4 121.6 203.6 C124 201.6 129.5 201.6 131.5 204.2 C135 203.2 139.5 205.6 140.4 208.6 C144 209.6 147 213 147.4 216.6 C150.5 222 153.4 230 153.8 236.8 L123.6 247.6 C115 244.5 106.5 240.5 102.6 235.8 C98.6 233 97.8 229.6 100.4 227.6 C102 226.4 103.6 224 103 221.4 C101 216.4 98.6 211.6 97.2 207.6 Z" fill="#fbdfc0"/>
<path d="M113 207.4 C111.4 211.4 112 216 114.6 219.4" fill="none" stroke="#f3cda8" stroke-width="1"/>
<polygon points="121.6,242.6 151.6,232 153.8,237 123.6,247.6" fill="#6db8f3"/>
<polygon points="123.4,247.4 153.8,236.8 159.2,250 128.8,262" fill="#3791e6"/>
<path d="M41.3 136.5 a19.2 19.2 0 1 0 13 33.4 L68.4 164.6 L59.8 160.8 A19.2 19.2 0 0 0 41.3 136.5Z" fill="#f08258"/>
<g fill="none" stroke="#fff" stroke-width="1.4"><circle cx="41" cy="154.6" r="8.7"/><ellipse cx="41" cy="154.6" rx="3.8" ry="8.7"/><path d="M32.3 154.6h17.4M34 149.8h14M34 159.4h14"/></g>
<circle cx="48.8" cy="161.4" r="3.4" fill="#f08258" stroke="#fff" stroke-width="1.4"/><path d="M51.2 164l2.6 2.8" stroke="#fff" stroke-width="1.6" stroke-linecap="round"/>
<ellipse cx="115" cy="138.5" rx="16.3" ry="12.3" fill="#7bd67a"/><polygon points="101.6,146 103.2,155.4 111.6,150.2" fill="#7bd67a"/>
<g fill="#d6f5d2"><circle cx="110.8" cy="139.2" r="1.25"/><circle cx="115.6" cy="139.2" r="1.25"/><circle cx="120.4" cy="139.2" r="1.25"/></g>
<circle cx="145.2" cy="187.8" r="13.5" fill="#7bb9ef"/><polygon points="126.4,195 133.6,188.4 137,197.8" fill="#7bb9ef"/>
<rect x="138.2" y="183.2" width="13.6" height="9" fill="none" stroke="#fff" stroke-width="1.2"/><path d="M138.2 183.4l6.8 5.2 6.8-5.2" fill="none" stroke="#fff" stroke-width="1.1"/>
<circle cx="950" cy="189.4" r="50.8" fill="#f3f4f6"/>
<circle cx="950" cy="189.4" r="47.4" fill="#e3e5e9"/>
<clipPath id="gl"><circle cx="950" cy="189.4" r="45.8"/></clipPath>
<g clip-path="url(#gl)">
<rect x="902.6" y="142" width="48.9" height="94.8" fill="#ebecf0"/>
<rect x="951.5" y="142" width="47.4" height="94.8" fill="#f8f9fb"/>
<polygon points="957.83,140.96 966.27,142.89 974.7,147.71 980.72,154.46 983.37,160.24 979.76,162.89 982.17,166.51 977.59,169.16 973.01,167.95 971.33,171.33 975.18,173.98 985.54,176.14 993.01,177.59 989.64,181.45 983.13,183.37 976.63,182.41 972.29,180.96 967.47,184.58 961.93,189.4 959.28,194.46 959.28,200.24 964.1,204.1 972.29,207.71 974.94,214.7 973.73,223.37 968.92,230.6 960.24,236.39 948.19,238.8 938,239 936.6,233.9 940.8,227.2 945.9,220.4 949.3,214.6 943.5,211.5 937.5,208.6 932,205 928.5,200.8 923.7,196.2 921,192 924.6,187 928.92,185.78 933.73,179.76 940.96,173.73 948.19,165.3 953.01,153.98" fill="#3d92e3" stroke="#3d92e3" stroke-width="1" stroke-linejoin="round"/>
<polygon points="902,184.5 904.6,188.4 909.5,193 915.5,196.8 920.5,200.2 925.4,203.4 926.6,204 928.5,210.5 930.7,218.7 933,225.5 934.9,231.4 936,239 920,246 896,232 894,186" fill="#3d92e3" stroke="#3d92e3" stroke-width="1" stroke-linejoin="round"/>
<polygon points="921.69,153.49 926.51,149.64 932.29,151.08 936.14,147.23 942.17,148.43 944.82,153.25 941.2,155.9 945.78,160.72 943.61,166.51 938.55,168.67 936.14,164.34 932.53,168.43 927.47,166.51 928.92,160.72 924.1,159.28" fill="#3d92e3" stroke="#3d92e3" stroke-width="1" stroke-linejoin="round"/>
<rect x="951.5" y="142" width="47.4" height="94.8" fill="#fff" fill-opacity=".09"/>
<polygon points="963.13,163.61 967.95,161.2 971.33,164.1 968.43,166.51 970.36,169.88 965.54,169.16" fill="#f6f7fa"/>
<polygon points="976.63,176.63 983.13,178.07 984.82,180 978.55,180" fill="#f6f7fa"/>
<polygon points="928.43,154.46 931.81,155.9 930.84,159.28 933.73,162.17 930.36,163.13" fill="#ebecf0"/>
<path d="M941.2 199.6 a3.9 3.9 0 0 1 2.6 -7 a6.2 6.2 0 0 1 11.4 -1.4 a4.6 4.6 0 0 1 3.4 8 a3 3 0 0 1 -1 .4 z" fill="#e8f0f9"/>
</g>
<g fill="none" stroke="#f4bf78" stroke-width="1.9" stroke-dasharray="4.6 3.8">
<path d="M915.5 139.5 C913.53 141.02 907.35 145.12 903.7 148.6 C900.05 152.08 896.68 156.18 893.6 160.4 C890.52 164.62 887.17 169.63 885.2 173.9 C883.23 178.17 881.52 181.73 881.8 186 C882.08 190.27 884.65 195.33 886.9 199.5 C889.15 203.67 892.95 207.25 895.3 211 C897.65 214.75 900.05 220.17 901 222"/>
<path d="M990.6 145.3 C992.57 147.82 999.33 155.35 1002.4 160.4 C1005.47 165.45 1008.32 170.25 1009 175.6 C1009.68 180.95 1007.6 187.6 1006.5 192.5 C1005.4 197.4 1003.93 200.8 1002.4 205 C1000.87 209.2 999.83 213.88 997.3 217.7 C994.77 221.52 988.88 226.2 987.2 227.9"/>
<path d="M895.3 163.8 C896.42 165.77 899.75 171.95 902 175.6 C904.25 179.25 905.7 182.33 908.8 185.7 C911.9 189.07 916.4 192.7 920.6 195.8 C924.8 198.9 929.52 201.77 934 204.3 C938.48 206.83 943.17 208.97 947.5 211 C951.83 213.03 956.75 214.25 960 216.5 C963.25 218.75 963.6 222.5 967 224.5 C970.4 226.5 975.23 227.5 980.4 228.5 C985.57 229.5 995.07 230.17 998 230.5"/>
<path d="M940 210.6 C942.25 210.95 948.45 212.75 953.5 212.7 C958.55 212.65 965.25 211.42 970.3 210.3 C975.35 209.18 979.58 207.85 983.8 206 C988.02 204.15 992.07 201.53 995.6 199.2 C999.13 196.87 1003.43 193.2 1005 192"/>
<path d="M921 176 C923.33 174.83 930.17 171.03 935 169 C939.83 166.97 945.23 165.8 950 163.8 C954.77 161.8 959.37 158.97 963.6 157 C967.83 155.03 971.25 153.73 975.4 152 C979.55 150.27 986.32 147.5 988.5 146.6"/>
</g>
<path d="M989.6 188.6 Q990.6 196 994.6 200.6" fill="none" stroke="#4b93c9" stroke-width="1.5" stroke-linecap="round"/>
<rect x="921" y="127" width="12.6" height="10.4" rx="1.4" fill="#3f93e3"/><rect x="921.6" y="125.8" width="4" height="2.4" rx=".8" fill="#3f93e3"/><circle cx="927.8" cy="132" r="2.3" fill="none" stroke="#cfe6f9" stroke-width="1.2"/>
<rect x="949.5" y="127" width="8" height="8" rx="1.5" fill="#bcdcf5"/><rect x="953.5" y="124.5" width="7" height="7" rx="1.5" fill="#d4e8f8"/>
<circle cx="977.4" cy="132.2" r="3.3" fill="#3f93e3"/><g stroke="#3f93e3" stroke-width="1.3" stroke-linecap="round"><path d="M977.4 125.2v14M970.4 132.2h14M972.5 127.3l9.8 9.8M982.3 127.3l-9.8 9.8"/></g>
<circle cx="995" cy="146" r="3.7" fill="#fff" stroke="#3f93e3" stroke-width="1.1"/><rect x="993.3" y="149.6" width="3.4" height="2.6" fill="#3f93e3"/><g stroke="#f3b562" stroke-width="1"><path d="M995 139.2v-2M989.6 141.4l-1.4-1.4M1000.4 141.4l1.4-1.4"/></g>
<rect x="1000.4" y="169" width="3.2" height="10" rx="1" fill="#bcdcf5"/><rect x="1005" y="171.6" width="3.6" height="7.4" rx="1" fill="#bcdcf5"/>
<circle cx="1012.4" cy="190.4" r="6.4" fill="#fff" stroke="#3f93e3" stroke-width="1.9"/><path d="M1012.4 186v4.6l3.4 1.6" fill="none" stroke="#f0a040" stroke-width="1.3"/>
<circle cx="1006" cy="212.8" r="7" fill="#e9f2fa"/><circle cx="1005.2" cy="211.8" r="2.6" fill="none" stroke="#bcdcf5" stroke-width="1.1"/><path d="M1007.2 214l2.2 2.4" stroke="#bcdcf5" stroke-width="1.2"/>
<path d="M998 239.4v-5l2.2-4.8h9.6l2.2 4.8v5z" fill="#3f93e3"/><rect x="1001.2" y="230.8" width="7.6" height="2.8" fill="#dbeaf8"/><rect x="998.8" y="238.8" width="2.8" height="2.4" fill="#3f93e3"/><rect x="1008.4" y="238.8" width="2.8" height="2.4" fill="#3f93e3"/>
<rect x="977.4" y="243" width="10" height="4" rx="1" fill="#bcdcf5" transform="rotate(14 982 245)"/>
<rect x="945" y="238.6" width="12.4" height="12.4" rx="1.5" fill="#bcdcf5"/><path d="M949 249.4v-8.8h3a2.5 2.5 0 0 1 0 5H949" fill="none" stroke="#fff" stroke-width="1.7"/>
<path d="M908.4 233.6h14.2v12.6l-3.6-1.6l-3.5 1.6l-3.5-1.6l-3.6 1.6z" fill="#3f93e3"/><path d="M915.5 234.4v8.6" stroke="#8fc3f0" stroke-width="1"/>
<rect x="893.3" y="214.3" width="9" height="9" rx="1.5" fill="#bcdcf5"/><rect x="895.6" y="216.6" width="4.4" height="4.4" fill="#eaf3fb"/>
<path d="M892.6 197.2c-1-1.2-5-1.2-5.2 1.2c-.2 2.6 5.2 2 5.2 4.6c0 2.4-4.2 2.4-5.6 1M889.8 194.6v12.4" fill="none" stroke="#3f93e3" stroke-width="1.6"/>
<circle cx="892.8" cy="179.9" r="3.6" fill="none" stroke="#bcdcf5" stroke-width="2.4" stroke-dasharray="1.8 1.2"/>
<ellipse cx="884.6" cy="161" rx="5" ry="3.6" fill="#bcdcf5"/><circle cx="881.8" cy="157.6" r="1.4" fill="#bcdcf5"/><circle cx="886.8" cy="157.2" r="1.4" fill="#bcdcf5"/>
<rect x="899" y="139.6" width="8" height="9.6" rx="1" fill="#bcdcf5" transform="rotate(-16 903 144.4)"/>
<text x="387" y="148.5" font-family="'Liberation Sans','Noto Sans CJK SC',sans-serif" font-size="32.37" font-weight="bold" fill="#666">承载网</text>
<text x="755.2" y="148.3" font-family="'Liberation Sans','Noto Sans CJK SC',sans-serif" font-size="32.44" font-weight="bold" fill="#666">承载网</text>
<text x="251.7" y="384.6" font-family="'Liberation Sans','Noto Sans CJK SC',sans-serif" font-size="32.64" font-weight="bold" fill="#666">无线接入网</text>
<text x="557" y="385" font-family="'Liberation Sans','Noto Sans CJK SC',sans-serif" font-size="32.6" font-weight="bold" fill="#666">核心网</text>
<text x="309.5" y="321.6" font-family="'Liberation Sans','Noto Sans CJK SC',sans-serif" font-size="21.18" fill="#777">基站</text>
</svg>
</body></html>
